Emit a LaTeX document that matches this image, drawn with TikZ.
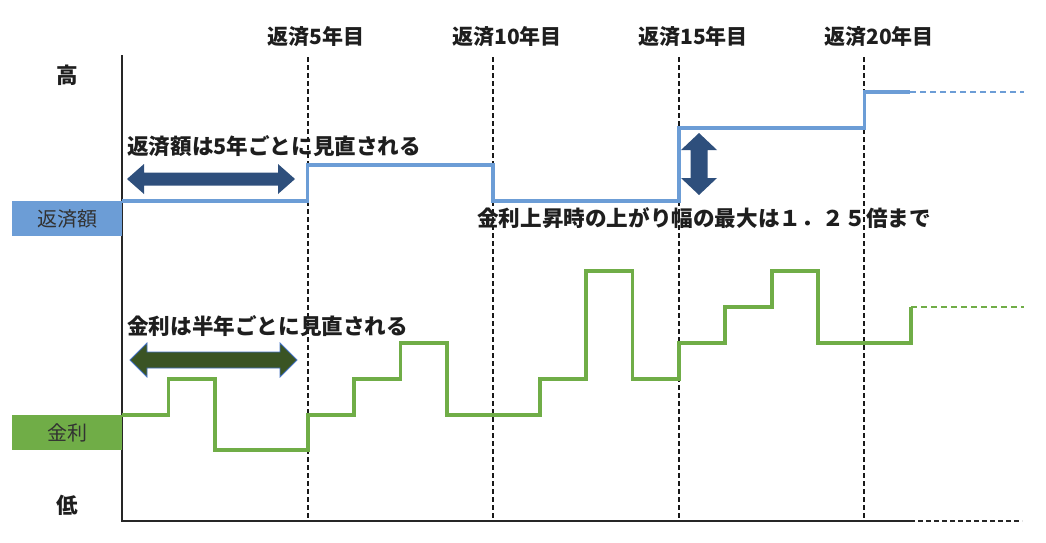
\documentclass[tikz,border=0pt]{standalone}
\usepackage{fontspec}
\newfontfamily\jp{Noto Sans CJK JP}
\definecolor{bline}{RGB}{108,157,214}
\definecolor{gline}{RGB}{112,173,71}
\definecolor{darkblue}{RGB}{46,79,124}
\definecolor{darkgreen}{RGB}{58,84,36}
\definecolor{arrowedge}{RGB}{68,114,196}
\definecolor{txt}{RGB}{30,30,30}
\definecolor{boxtxt}{RGB}{50,50,50}
\begin{document}
\begin{tikzpicture}[x=1pt,y=-1pt,
  lab/.style={font=\jp\bfseries\fontsize{21.6}{26}\selectfont, text=txt, inner sep=0pt},
  toplab/.style={font=\jp\bfseries\fontsize{21}{24}\selectfont, text=txt, inner sep=0pt},
  legbox/.style={minimum width=110pt, minimum height=35pt, inner sep=0pt, font=\jp\fontsize{20}{24}\selectfont, text=boxtxt},
  vdash/.style={line width=2.1pt, black!90, dash pattern=on 5pt off 3pt},
  axisline/.style={line width=2.2pt, black!85},
  blueln/.style={line width=3.6pt, bline},
  greenln/.style={line width=3.8pt, gline},
  blkarrow/.style={line join=miter}
]
\useasboundingbox (0,0) rectangle (1046,542);

% dashed year markers
\foreach \x in {307.6,493.2,678.8,864.4} \draw[vdash] (\x,57) -- (\x,521);

% axes
\draw[axisline] (122,55) -- (122,521) -- (910,521);
\draw[axisline, dash pattern=on 5pt off 3pt] (910,521) -- (1022,521);

% legend boxes
\node[legbox, fill=bline] (rb) at (67,218.5) {返済額};
\node[legbox, fill=gline] (gb) at (67,432.5) {金利};

% high / low
\node[lab] (hi) at (67,75) {高};
\node[lab] (lo) at (67,505) {低};

% top labels
\node[toplab] (y5) at (316,37) {返済5年目};
\node[toplab] (y10) at (507,37) {返済10年目};
\node[toplab] (y15) at (693,37) {返済15年目};
\node[toplab] (y20) at (879,37) {返済20年目};

% repayment line
\draw[blueln] (122,201) -| (307.6,165) -| (493.2,201) -| (678.8,128) -| (864.4,92) -- (910,92);
\draw[bline, line width=2.4pt, dash pattern=on 6pt off 4pt] (910,92) -- (1024,92);

% interest line
\draw[greenln] (122,415) -| (168.4,379) -| (214.8,450) -| (307.6,415) -| (354,379) -| (400.4,343) -| (446.8,415) -| (539.6,379) -| (586,271) -| (632.4,379) -| (678.8,343) -| (725.2,307) -| (771.6,271) -| (818,343) -| (910.8,307);
\draw[gline, line width=2.4pt, dash pattern=on 6pt off 4pt] (910.8,307) -- (1024,307);

% block arrows
\fill[darkblue, blkarrow] (127,179) -- (144,164) -- (144,172.5) -- (278,172.5) -- (278,164) -- (295,179) -- (278,194) -- (278,185.5) -- (144,185.5) -- (144,194) -- cycle;
\filldraw[fill=darkgreen, draw=arrowedge, line width=0.8pt, blkarrow] (130,360) -- (147,343) -- (147,352) -- (280,352) -- (280,343) -- (297,360) -- (280,377) -- (280,368) -- (147,368) -- (147,377) -- cycle;
\fill[darkblue, blkarrow] (699,133) -- (717,150) -- (707.5,150) -- (707.5,178) -- (717,178) -- (699,195) -- (681,178) -- (690.5,178) -- (690.5,150) -- (681,150) -- cycle;

% annotations
\node[lab, anchor=west] (n1) at (127,146) {返済額は5年ごとに見直される};
\node[lab, anchor=west] (n2) at (127,326) {金利は半年ごとに見直される};
\node[lab, anchor=west] (n3) at (477,218) {金利上昇時の上がり幅の最大は１．２５倍まで};
\end{tikzpicture}
\end{document}
